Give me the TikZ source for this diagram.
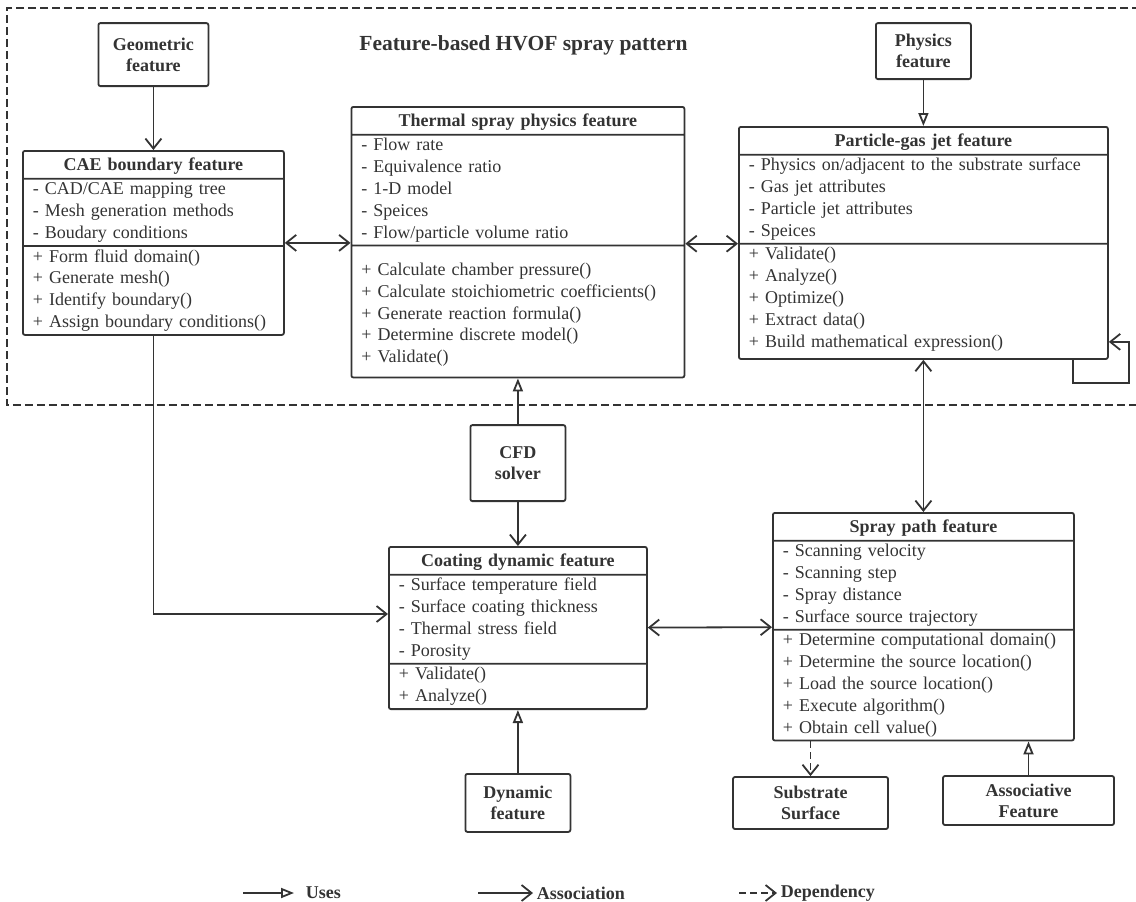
\documentclass[tikz,border=0pt]{standalone}
\usepackage{fontspec}
\setmainfont{Liberation Serif}
\usetikzlibrary{arrows.meta,shapes.multipart,positioning}

\definecolor{ink}{HTML}{333333}
\newcommand{\featrows}[1]{\begin{tabular}{@{}l@{}}#1\end{tabular}}
\newcommand{\clstitle}[1]{\hfill\featrows{\rule[-7.5pt]{0pt}{26pt}\textbf{#1}}\hfill\mbox{}}

\begin{document}
\begin{tikzpicture}[x=1pt,y=-1pt,line width=1.8pt,color=ink,
		font=\fontsize{18}{21.8}\selectfont,
		assoc/.style={-{Straight Barb[length=10pt,width=16pt]}},
		both/.style={{Straight Barb[length=10pt,width=16pt]}-{Straight Barb[length=10pt,width=16pt]}},
		uses/.style={-{Triangle[open,length=13pt,width=10pt]}},
		depend/.style={assoc,dash pattern=on 7pt off 4pt},
		feat/.style={draw,rounded corners=2pt,align=center,inner sep=2pt,font=\fontsize{18}{21}\selectfont\bfseries},
		cls/.style={draw,rounded corners=2pt,rectangle split,rectangle split parts=3,anchor=north west,inner xsep=10pt,inner ysep=0pt,align=left},
		legend/.style={anchor=west,inner sep=3pt,font=\fontsize{18}{21}\selectfont\bfseries}]
		
		\useasboundingbox (0,0) rectangle (1136,902);
		
		% pattern frame
		\draw[dash pattern=on 8pt off 4pt] (1140,8) -- (7,8) -- (7,405) -- (1140,405);
		\node[font=\fontsize{21.5}{25}\selectfont\bfseries](title) at (523.5,45) {Feature-based HVOF spray pattern};
		
		% feature classes
		\node[cls,text width=241pt](cae) at (22,150)
		{\clstitle{CAE boundary feature}
			\nodepart{two}\featrows{- CAD/CAE mapping tree\\- Mesh generation methods\\- Boudary conditions}
			\nodepart{three}\featrows{+ Form fluid domain()\\+ Generate mesh()\\+ Identify boundary()\\+ Assign boundary conditions()}};
		\node[cls,text width=313pt](therm) at (350.5,106)
		{\clstitle{Thermal spray physics feature}
			\nodepart{two}\featrows{- Flow rate\\- Equivalence ratio\\- 1-D model\\- Speices\\- Flow/particle volume ratio}
			\nodepart{three}\featrows{\rule{0pt}{29pt}+ Calculate chamber pressure()\\+ Calculate stoichiometric coefficients()\\+ Generate reaction formula()\\+ Determine discrete model()\\\rule[-14pt]{0pt}{0pt}+ Validate()}};
		\node[cls,text width=349pt](part) at (738,126)
		{\clstitle{Particle-gas jet feature}
			\nodepart{two}\featrows{- Physics on/adjacent to the substrate surface\\- Gas jet attributes\\- Particle jet attributes\\- Speices}
			\nodepart{three}\featrows{+ Validate()\\+ Analyze()\\+ Optimize()\\+ Extract data()\\\rule[-11pt]{0pt}{0pt}+ Build mathematical expression()}};
		\node[cls,text width=238pt](coat) at (388,546)
		{\clstitle{Coating dynamic feature}
			\nodepart{two}\featrows{- Surface temperature field\\- Surface coating thickness\\- Thermal stress field\\- Porosity}
			\nodepart{three}\featrows{+ Validate()\\+ Analyze()}};
		\node[cls,text width=281pt](spray) at (772,512)
		{\clstitle{Spray path feature}
			\nodepart{two}\featrows{- Scanning velocity\\- Scanning step\\- Spray distance\\- Surface source trajectory}
			\nodepart{three}\featrows{+ Determine computational domain()\\+ Determine the source location()\\+ Load the source location()\\+ Execute algorithm()\\+ Obtain cell value()}};
		
		% base features
		\node[feat,minimum width=110pt,minimum height=63pt](geo)[above=63pt of cae] {Geometric\\feature};
		\node[feat,minimum width=95pt,minimum height=56pt](phys)[above=46pt of part] {Physics\\feature};
		\node[feat,minimum width=95pt,minimum height=76pt](cfd)[above=44pt of coat] {CFD\\solver};
		\node[feat,minimum width=105pt,minimum height=58pt](dyn)[below=63pt of coat] {Dynamic\\feature};
		\node[feat,minimum width=155pt,minimum height=52pt](sub) at (810.5,803) {Substrate\\Surface};
		\node[feat,minimum width=171pt,minimum height=49pt](asc) at (1028.5,800.5) {Associative\\Feature};
		
		\path
		(geo) edge[assoc] (cae)
		(phys) edge[uses] (part)
		(cfd) edge[uses] (therm)
		(cfd) edge[assoc] (coat)
		(dyn) edge[uses] (coat)
		(coat) edge[both] (spray)
		(part) edge[both] (spray);
		
		\draw[both] ([yshift=3pt]cae.two split east) -- ([yshift=3pt]cae.two split east -| therm.west);
		\draw[both] (therm.east |- part.two split west) -- (part.two split west);
		\draw[assoc] (cae.south) |- ([yshift=14pt]coat.west);
		\draw[depend] (spray.south -| sub.north) -- (sub.north);
		\draw[uses] (asc.north) -- (asc.north |- spray.south);
		\draw[assoc] ([xshift=-36pt]part.south east) -- ++(0,23) -- ++(56,0) |- ([yshift=18pt]part.south east);
		
		% legend
		\coordinate (u0) at (243,893);
		\coordinate (a0) at (478,893);
		\coordinate (d0) at (739,893);
		\node[legend](luses) at (302,893) {Uses};
		\node[legend](lassoc) at (533,893) {Association};
		\node[legend](ldep) at (777,893) {Dependency};
		\draw[uses] (u0) -- ([xshift=-8pt]luses.west);
		\draw[assoc] (a0) -- (lassoc.west);
		\draw[depend] (d0) -- (ldep.west);
		
	\end{tikzpicture}
\end{document}
